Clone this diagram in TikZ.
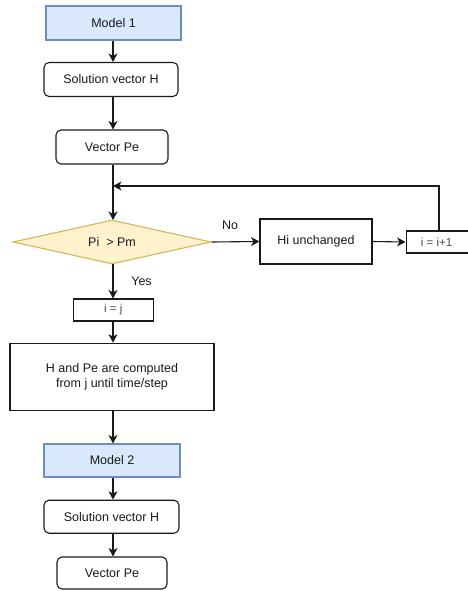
\documentclass[tikz,border=0pt]{standalone}
\usepackage{fontspec}
\setmainfont{Liberation Sans}
\usetikzlibrary{arrows.meta,shapes.geometric}
\definecolor{bluefill}{HTML}{DAE8FC}
\definecolor{bluedraw}{HTML}{6C8EBF}
\definecolor{yelfill}{HTML}{FFF2CC}
\definecolor{yeldraw}{HTML}{D6B656}
\definecolor{ink}{HTML}{1A1A1A}
\tikzset{
  base/.style={draw=ink, line width=1.1pt, inner sep=0pt, font=\fontsize{12.5}{15}\selectfont, align=center, text=ink},
  modelbox/.style={base, rectangle, fill=bluefill, draw=bluedraw},
  roundbox/.style={base, rectangle, rounded corners=5pt, fill=white},
  plainbox/.style={base, rectangle, fill=white},
  smallbox/.style={plainbox, font=\fontsize{11.5}{14}\selectfont, text=ink!80},
  decision/.style={base, diamond, shape aspect=6, fill=yelfill, draw=yeldraw},
  conn/.style={draw=ink, line width=1.1pt, -{Stealth[length=8.5pt,width=9pt,inset=2.5pt]}},
  lbl/.style={font=\fontsize{12.5}{15}\selectfont, text=ink, inner sep=0pt}
}
\begin{document}
\begin{tikzpicture}[x=1pt,y=-1pt]
\useasboundingbox (0,0) rectangle (467,591);
% nodes
\node[modelbox, minimum width=135pt, minimum height=34pt] (m1) at (113.5,23) {Model 1};
\node[roundbox, minimum width=134pt, minimum height=34pt] (s1) at (111,79.5) {Solution vector H};
\node[roundbox, minimum width=112pt, minimum height=34pt] (v1) at (112,147) {Vector Pe};
\node[decision, minimum width=198pt, minimum height=44pt] (d) at (112,242) {Pi \ > Pm};
\coordinate (dN) at (113,220);
\coordinate (dS) at (113,264);
\node[plainbox, minimum width=112pt, minimum height=45pt] (hu) at (316,241.5) {Hi unchanged};
\node[smallbox, minimum width=64pt, minimum height=22pt, anchor=west] (inc) at (405.5,242) {i = i+1\hspace*{3pt}};
\node[smallbox, minimum width=80pt, minimum height=22pt] (ij) at (113.3,310) {i = j};
\node[plainbox, minimum width=204pt, minimum height=67pt] (hp) at (112,376.7) {H and Pe are computed\\from j until time/step};
\node[modelbox, minimum width=136pt, minimum height=33pt] (m2) at (112,460.5) {Model 2};
\node[roundbox, minimum width=135pt, minimum height=33pt] (s2) at (111.5,516.7) {Solution vector H};
\node[roundbox, minimum width=110pt, minimum height=32pt] (v2) at (112,573) {Vector Pe};
\coordinate (join) at (113,186);
\coordinate (mx) at (113,0);
% labels
\node[lbl] (no) at (230,225) {No};
\node[lbl] (yes) at (141.5,281) {Yes};
% connectors
\draw[conn] (m1.south -| mx) -- (s1.north -| mx);
\draw[conn] (s1.south -| mx) -- (v1.north -| mx);
\draw[conn] (v1.south -| mx) -- (dN);
\draw[conn] (d.east) -- (hu.west);
\draw[conn] (hu.east) -- (inc.west);
\draw[conn] (inc.north -| 439,0) |- (join);
\draw[conn] (dS) -- (ij.north -| mx);
\draw[conn] (ij.south -| mx) -- (hp.north -| mx);
\draw[conn] (hp.south -| mx) -- (m2.north -| mx);
\draw[conn] (m2.south -| mx) -- (s2.north -| mx);
\draw[conn] (s2.south -| mx) -- (v2.north -| mx);
\end{tikzpicture}
\end{document}
